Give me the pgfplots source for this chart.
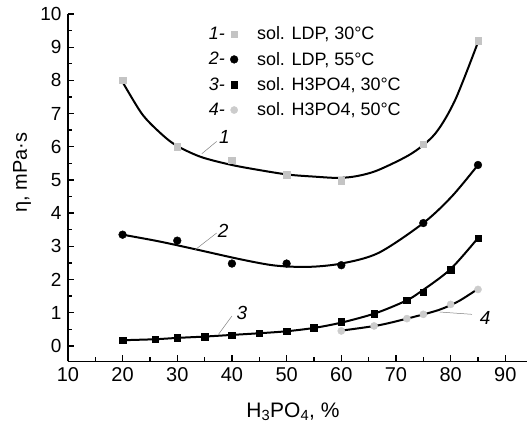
\documentclass[border=0pt]{standalone}
\usepackage{pgfplots}
\pgfplotsset{compat=1.18}
\usepackage{fontspec}
\setmainfont{Liberation Sans}
\definecolor{lg}{HTML}{C4C4C4}
\definecolor{lc}{HTML}{CCCCCC}
\pgfplotsset{
  legnum/.style={legend image code/.code={%
    \node[anchor=east,inner sep=0pt,text=black,font=\fontsize{18}{22}\selectfont\itshape] at (-0.02cm,0cm){#1-};
    \draw[##1] plot coordinates {(0.3cm,0cm)};}}
}
\begin{document}
\begin{tikzpicture}
\begin{axis}[name=ax,
  scale only axis, width=460pt, height=348pt,
  xmin=10, xmax=94, ymin=-0.47, ymax=10,
  axis lines*=left, axis line style={line width=1.6pt},
  xtick={10,20,...,90}, minor xtick={15,25,...,85},
  ytick={0,1,...,10}, minor ytick={0.5,1.5,...,9.5},
  tick align=inside, major tick length=6pt, minor tick length=4.5pt,
  tick style={line width=1.3pt, black},
  /pgf/number format/assume math mode=true,
  xticklabel style={font=\fontsize{20}{22}\selectfont, yshift=-3pt},
  yticklabel style={font=\fontsize{19}{22}\selectfont, xshift=-3pt},
  xlabel={H\textsubscript{3}PO\textsubscript{4}, \%},
  xlabel style={font=\fontsize{21}{24}\selectfont, at={(axis description cs:0.49,0)}, anchor=base, yshift=-56pt},
  ylabel={η, mPa·s},
  ylabel style={font=\fontsize{20}{24}\selectfont, at={(axis description cs:-0.1,0.543)}, anchor=center},
  legend style={draw=none, fill=none, at={(axis description cs:0.30,0.975)}, anchor=north west,
    font=\fontsize{18}{22}\selectfont, row sep=6.8pt,
    /tikz/every odd column/.style={column sep=17pt}},
  legend cell align=left,
  clip=false,
]
\addplot[only marks, mark=square*, mark size=3.3pt, color=lg, legnum=1] coordinates {
 (20,8.0) (30,6.0) (40,5.6) (50,5.15) (60,4.97) (75,6.08) (85,9.2)};
\addlegendentry{sol. LDP, 30°C}
\addplot[only marks, mark=*, mark size=3.9pt, color=black, legnum=2] coordinates {
 (20,3.35) (30,3.17) (40,2.48) (50,2.48) (60,2.43) (75,3.7) (85,5.45)};
\addlegendentry{sol. LDP, 55°C}
\addplot[only marks, mark=square*, mark size=3.3pt, color=black, legnum=3] coordinates {
 (20,0.17) (26,0.2) (30,0.25) (35,0.28) (40,0.32) (45,0.38) (50,0.44) (55,0.54)
 (60,0.72) (66,0.97) (72,1.37) (75,1.62) (80,2.3) (85,3.25)};
\addlegendentry{sol. H3PO4, 30°C}
\addplot[only marks, mark=*, mark size=3.6pt, color=lc, legnum=4] coordinates {
 (60,0.45) (66,0.6) (72,0.82) (75,0.95) (80,1.25) (85,1.7)};
\addlegendentry{sol. H3PO4, 50°C}
% fitted curves
\addplot[forget plot, black, line width=2pt, smooth, tension=0.5] coordinates {
 (20,7.95) (23.5,7.0) (26.6,6.46) (29.6,6.06) (34.2,5.7) (39.7,5.46) (44.9,5.3) (50.3,5.16)
 (55,5.1) (59.5,5.06) (63,5.12) (66.8,5.3) (72.9,5.8) (77.2,6.4) (80.8,7.4) (85,9.15)};
\addplot[forget plot, black, line width=2pt, smooth, tension=0.5] coordinates {
 (20,3.35) (26.6,3.15) (33.6,2.9) (41.8,2.6) (47.9,2.42) (54,2.38) (60,2.48) (66.8,2.8)
 (75,3.7) (80.2,4.5) (85,5.45)};
\addplot[forget plot, black, line width=2pt, smooth, tension=0.5] coordinates {
 (20,0.17) (26,0.2) (30,0.24) (35,0.28) (40,0.33) (45,0.38) (50,0.44) (55,0.54) (60,0.7)
 (66.2,0.98) (71.7,1.35) (74.4,1.62) (79.9,2.3) (85,3.25)};
\addplot[forget plot, black, line width=2pt, smooth, tension=0.5] coordinates {
 (60.5,0.47) (66.8,0.62) (72,0.82) (77.8,1.08) (81.5,1.35) (85,1.72)};
% curve labels
\draw[gray, line width=0.5pt] (axis cs:34.5,5.79) -- (axis cs:37.2,6.16);
\node[font=\fontsize{19}{22}\selectfont\itshape] at (axis cs:38.6,6.29) {1};
\draw[gray, line width=0.5pt] (axis cs:33.3,2.9) -- (axis cs:37.2,3.4);
\node[font=\fontsize{19}{22}\selectfont\itshape] at (axis cs:38.4,3.45) {2};
\draw[gray, line width=0.5pt] (axis cs:37.55,0.35) -- (axis cs:40.0,0.9);
\node[font=\fontsize{19}{22}\selectfont\itshape] at (axis cs:41.8,1.0) {3};
\draw[gray, line width=0.5pt] (axis cs:78.0,1.02) -- (axis cs:83.9,0.95);
\node[font=\fontsize{19}{22}\selectfont\itshape] at (axis cs:86.3,0.85) {4};
\end{axis}
\path ([xshift=-68pt,yshift=-59pt]ax.south west) rectangle ([yshift=14pt]ax.north east);
\end{tikzpicture}
\end{document}
